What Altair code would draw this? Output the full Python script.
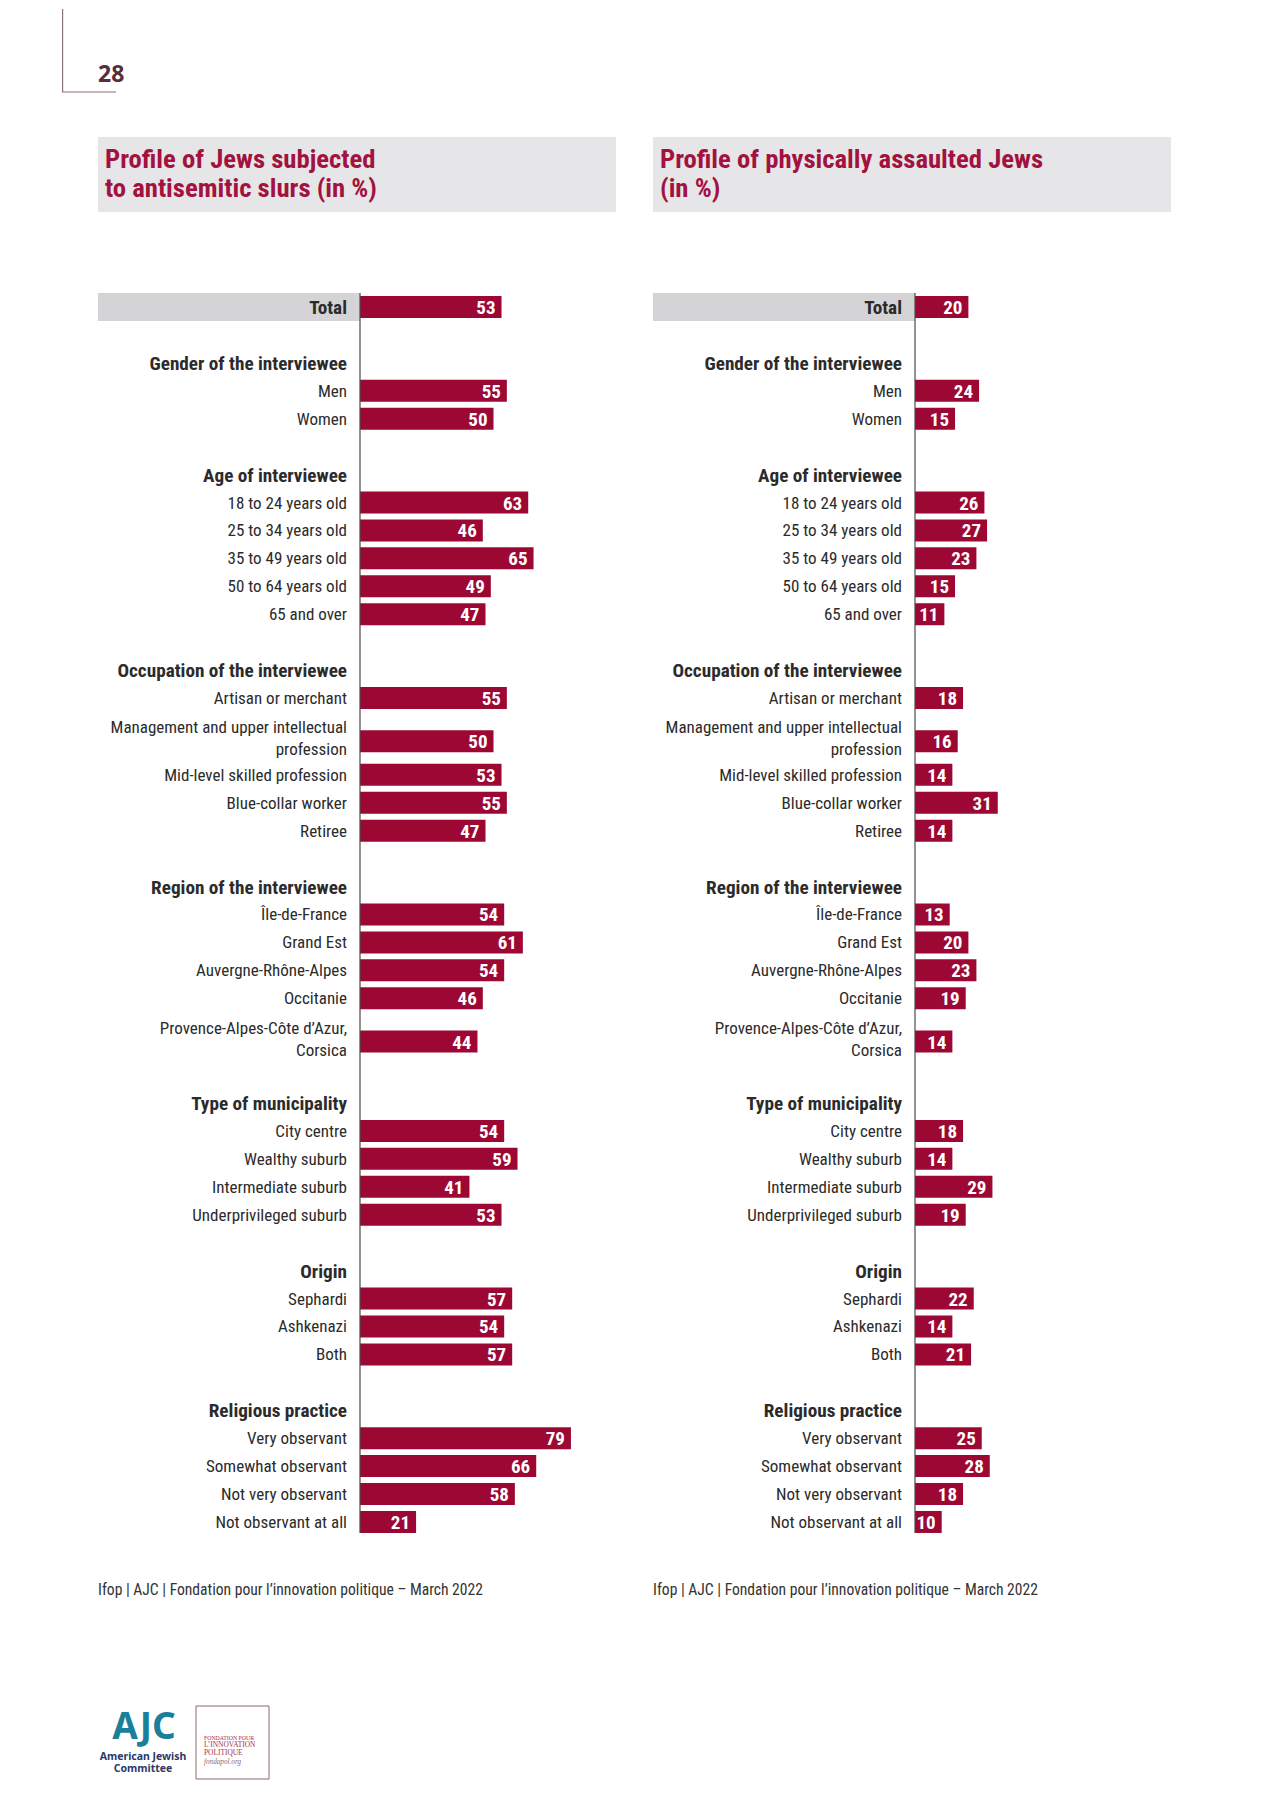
import altair as alt
import pandas as pd

# ---------------- data ----------------
TITLE_SLURS = ["Profile of Jews subjected", "to antisemitic slurs (in %)"]
TITLE_ASSAULT = ["Profile of physically assaulted Jews", "(in %)"]
SOURCE = "Ifop | AJC | Fondation pour l’innovation politique – March 2022"
PAGE_NUMBER = "28"

TOTAL_LABEL = "Total"
TOTAL_SLURS = 53
TOTAL_ASSAULT = 20

GROUP_HEADERS = [
    "Gender of the interviewee",
    "Age of interviewee",
    "Occupation of the interviewee",
    "Region of the interviewee",
    "Type of municipality",
    "Origin",
    "Religious practice",
]
GROUP_ITEMS = [
    ["Men", "Women"],
    ["18 to 24 years old", "25 to 34 years old", "35 to 49 years old",
     "50 to 64 years old", "65 and over"],
    ["Artisan or merchant", "Management and upper intellectual\nprofession",
     "Mid-level skilled profession", "Blue-collar worker", "Retiree"],
    ["Île-de-France", "Grand Est", "Auvergne-Rhône-Alpes", "Occitanie",
     "Provence-Alpes-Côte d’Azur,\nCorsica"],
    ["City centre", "Wealthy suburb", "Intermediate suburb", "Underprivileged suburb"],
    ["Sephardi", "Ashkenazi", "Both"],
    ["Very observant", "Somewhat observant", "Not very observant", "Not observant at all"],
]
SLURS_VALUES = [
    [55, 50],
    [63, 46, 65, 49, 47],
    [55, 50, 53, 55, 47],
    [54, 61, 54, 46, 44],
    [54, 59, 41, 53],
    [57, 54, 57],
    [79, 66, 58, 21],
]
ASSAULT_VALUES = [
    [24, 15],
    [26, 27, 23, 15, 11],
    [18, 16, 14, 31, 14],
    [13, 20, 23, 19, 14],
    [18, 14, 29, 19],
    [22, 14, 21],
    [25, 28, 18, 10],
]

# ---------------- styles / layout ----------------
FONT = "Liberation Sans Narrow, Roboto Condensed, Arial Narrow, Roboto, sans-serif"
RED = "#9c0833"
TITLE_RED = "#a3123f"
TITLE_BG = "#e6e6e8"
BAND_GRAY = "#d4d4d6"
TXT = "#2b2b2b"

UNIT = 2.67        # px per percentage point
ROW = 27.93        # px per row
PLOT_H = 1782
ROW0_PX = 298      # Total row centre from plot top
BAR_HALF = 11 / ROW
BAND_PX = 262      # grey band / label area width left of axis
BOX_W = 518


def build_rows(total, values):
    rows = [dict(kind="total", label=TOTAL_LABEL, value=total, pos=0.0)]
    pos = 0.0
    for header, items, vals in zip(GROUP_HEADERS, GROUP_ITEMS, values):
        pos += 2
        rows.append(dict(kind="header", label=header, value=None, pos=pos))
        for item, v in zip(items, vals):
            multi = "\n" in item
            pos += 1.55 if multi else 1
            rows.append(dict(kind="item2" if multi else "item", label=item, value=v, pos=pos))
            if multi:
                pos += 0.2
    return pd.DataFrame(rows)


one = pd.DataFrame({"k": [0]})


def panel(df, title_lines, axis_px, width_px, extras=None):
    x_scale = alt.Scale(domain=[-axis_px / UNIT, (width_px - axis_px) / UNIT],
                        nice=False, zero=False)
    y_scale = alt.Scale(domain=[-ROW0_PX / ROW, (PLOT_H - ROW0_PX) / ROW],
                        nice=False, zero=False, reverse=True)
    bx0 = axis_px - BAND_PX
    base = alt.Chart(df)
    X = lambda f: alt.X(f, scale=x_scale, axis=None)
    Y = lambda f: alt.Y(f, scale=y_scale, axis=None)

    title_box = alt.Chart(one).mark_rect(color=TITLE_BG).encode(
        x=alt.value(bx0), x2=alt.value(bx0 + BOX_W),
        y=alt.value(128), y2=alt.value(203))
    title_txt = alt.Chart(one).mark_text(
        text=title_lines, align="left", baseline="middle", font=FONT,
        fontSize=26.7, fontWeight="bold", color=TITLE_RED, lineHeight=29
    ).encode(x=alt.value(bx0 + 7), y=alt.value(151))

    band = base.transform_filter("datum.kind == 'total'").transform_calculate(
        bl=f"{-BAND_PX / UNIT}", z="0", ya="datum.pos - 0.5", yb="datum.pos + 0.5"
    ).mark_rect(color=BAND_GRAY).encode(x=X("bl:Q"), x2="z:Q", y=Y("ya:Q"), y2="yb:Q")

    last = float(df["pos"].max())
    axis_rule = alt.Chart(pd.DataFrame({"a": [-0.5], "b": [last + BAR_HALF], "z": [0]})
                          ).mark_rule(color="#4a4a4a", strokeWidth=1.2).encode(
        x=X("z:Q"), y=Y("a:Q"), y2="b:Q")

    bars = base.transform_filter("isValid(datum.value)").transform_calculate(
        z="0", ya=f"datum.pos - {BAR_HALF}", yb=f"datum.pos + {BAR_HALF}"
    ).mark_rect(color=RED).encode(x=X("z:Q"), x2="value:Q", y=Y("ya:Q"), y2="yb:Q")

    vals = base.transform_filter("isValid(datum.value)").mark_text(
        align="right", baseline="middle", dx=-6, dy=1, color="white", font=FONT,
        fontSize=19, fontWeight="bold"
    ).encode(x=X("value:Q"), y=Y("pos:Q"), text=alt.Text("value:Q"))

    lab_items = base.transform_filter("datum.kind == 'item'").transform_calculate(z="0").mark_text(
        align="right", baseline="middle", dx=-13, dy=1, font=FONT, fontSize=17, color=TXT
    ).encode(x=X("z:Q"), y=Y("pos:Q"), text="label:N")

    lab_items2 = base.transform_filter("datum.kind == 'item2'").transform_calculate(z="0").mark_text(
        align="right", baseline="middle", dx=-13, dy=-13, font=FONT, fontSize=17, color=TXT,
        lineBreak="\n", lineHeight=22
    ).encode(x=X("z:Q"), y=Y("pos:Q"), text="label:N")

    lab_bold = base.transform_filter("datum.kind == 'header' || datum.kind == 'total'"
                                     ).transform_calculate(z="0").mark_text(
        align="right", baseline="middle", dx=-13, dy=1, font=FONT, fontSize=19.2,
        fontWeight="bold", color=TXT
    ).encode(x=X("z:Q"), y=Y("pos:Q"), text="label:N")

    source = alt.Chart(one).mark_text(
        text=SOURCE, align="left", baseline="middle", font=FONT, fontSize=15.6, color="#333333"
    ).encode(x=alt.value(bx0), y=alt.value(1581))

    layers = [title_box, title_txt, band, bars, axis_rule, vals, lab_items, lab_items2,
              lab_bold, source]
    if extras:
        layers += extras
    return alt.layer(*layers).properties(width=width_px, height=PLOT_H)


# page decorations (left panel only; plot origin at page x=61, y=8)
corner_v = alt.Chart(one).mark_rule(color="#8c7379", strokeWidth=1.2).encode(
    x=alt.value(0.6), y=alt.value(0), y2=alt.value(83))
corner_h = alt.Chart(one).mark_rule(color="#8c7379", strokeWidth=1.2).encode(
    x=alt.value(0), x2=alt.value(54), y=alt.value(83))
page_no = alt.Chart(one).mark_text(
    text=PAGE_NUMBER, align="left", baseline="middle", font="Open Sans", fontSize=23,
    fontWeight="bold", color="#5a2e36").encode(x=alt.value(36), y=alt.value(66))
ajc = alt.Chart(one).mark_text(
    text="AJC", align="center", baseline="middle", font="Noto Sans", fontSize=37,
    fontWeight="bold", color="#1b7f99").encode(x=alt.value(82), y=alt.value(1719))
ajc_sub = alt.Chart(one).mark_text(
    text=["American Jewish", "Committee"], align="center", baseline="middle",
    font="Noto Sans", fontSize=10.5, fontWeight="bold", color="#2b3a67", lineHeight=12
).encode(x=alt.value(81), y=alt.value(1748))
fond_box = alt.Chart(one).mark_rect(fill="white", stroke="#8a6a72", strokeWidth=1).encode(
    x=alt.value(134), x2=alt.value(207), y=alt.value(1697), y2=alt.value(1770))
fond_top = alt.Chart(one).mark_text(
    text="FONDATION POUR", align="left", baseline="middle",
    font="Liberation Serif", fontSize=5.8, color="#a3304d"
).encode(x=alt.value(142), y=alt.value(1729))
fond_txt = alt.Chart(one).mark_text(
    text=["L’INNOVATION", "POLITIQUE"], align="left", baseline="middle",
    font="Liberation Serif", fontSize=7.4, color="#a3304d", lineHeight=7.5
).encode(x=alt.value(142), y=alt.value(1736))
fond_url = alt.Chart(one).mark_text(
    text="fondapol.org", align="left", baseline="middle", font="Liberation Serif",
    fontSize=7.2, fontStyle="italic", color="#8a6a72"
).encode(x=alt.value(142), y=alt.value(1753))

left = panel(build_rows(TOTAL_SLURS, SLURS_VALUES), TITLE_SLURS, 298, 554,
             [corner_v, corner_h, page_no, ajc, ajc_sub, fond_box, fond_top, fond_txt, fond_url])
right = panel(build_rows(TOTAL_ASSAULT, ASSAULT_VALUES), TITLE_ASSAULT, 262, 517)

chart = alt.hconcat(left, right, spacing=37).properties(
    padding={"left": 53, "top": 0, "right": 0, "bottom": 0}
).configure_view(stroke=None)

chart.save("out.html", embed_options={"renderer": "svg", "actions": False})
